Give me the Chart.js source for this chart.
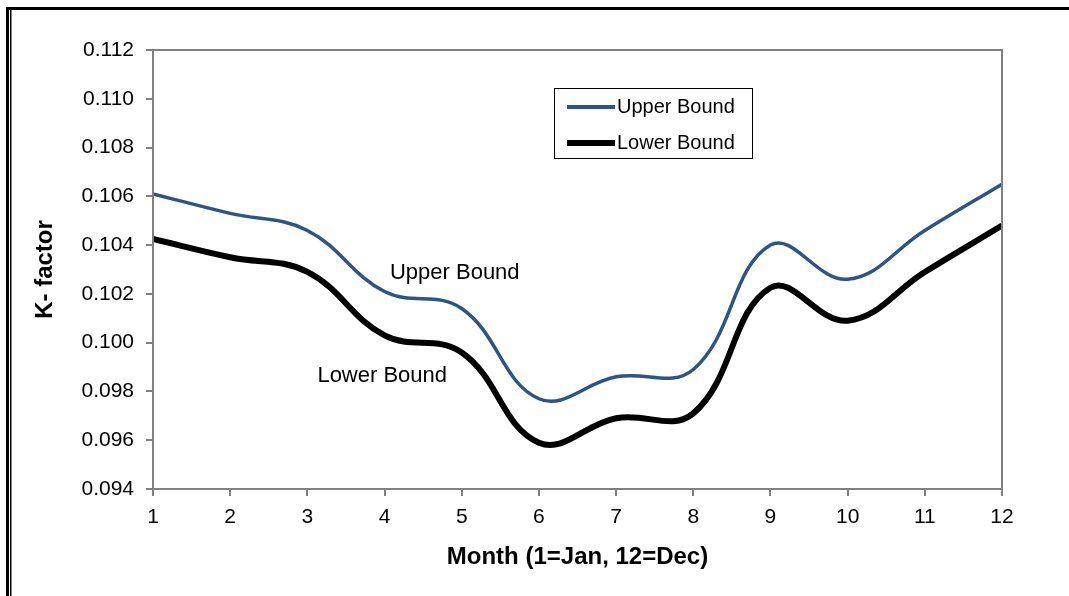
<!DOCTYPE html>
<html>
<head>
<meta charset="utf-8">
<script src="https://cdn.jsdelivr.net/npm/chart.js@4/dist/chart.umd.min.js"></script>
<style>
  html,body{margin:0;padding:0;background:#fff;}
  #wrap{width:1069px;height:596px;position:relative;}
</style>
</head>
<body>
<div id="wrap"><canvas id="kChart"></canvas></div>
<script>
// months and K-factor bounds
const months=[1,2,3,4,5,6,7,8,9,10,11,12];
const upperVals=[0.1061,0.1053,0.1046,0.1021,0.1014,0.0977,0.0986,0.0989,0.1040,0.1026,0.1046,0.1065];
const lowerVals=[0.10425,0.1035,0.1029,0.1003,0.0996,0.0959,0.0969,0.0971,0.10225,0.1009,0.1029,0.1048];
const yTicks=[0.094,0.096,0.098,0.100,0.102,0.104,0.106,0.108,0.110,0.112];

const FONT="'Liberation Sans', Arial, sans-serif";
const BLUE='#2d5487', AXIS='#808080';

const framePlugin={id:'frame',
  beforeDraw(chart){
    const c=chart.ctx;
    c.save();c.fillStyle='#000';
    c.fillRect(6,7,1063,3);
    c.fillRect(6,7,3,589);
    c.fillRect(10,10,1.5,586);
    c.restore();
  },
  afterDraw(chart){
    const c=chart.ctx,a=chart.chartArea,sx=chart.scales.x,sy=chart.scales.y;
    c.save();
    c.strokeStyle=AXIS;c.lineWidth=2;
    c.beginPath();
    c.moveTo(a.left,a.bottom);c.lineTo(a.left,a.top);c.lineTo(a.right,a.top);c.lineTo(a.right,a.bottom);c.lineTo(a.left,a.bottom);
    c.stroke();
    // legend box
    c.strokeStyle='#000';c.lineWidth=1;
    c.strokeRect(554.5,88.5,198,70);
    c.lineCap='butt';
    c.strokeStyle=BLUE;c.lineWidth=4;
    c.beginPath();c.moveTo(567,107);c.lineTo(615,107);c.stroke();
    c.strokeStyle='#000';c.lineWidth=6;
    c.beginPath();c.moveTo(567,143);c.lineTo(615,143);c.stroke();
    c.fillStyle='#000';c.font='20px '+FONT;c.textBaseline='middle';c.textAlign='left';
    c.fillText('Upper Bound',617,107);
    c.fillText('Lower Bound',617,143);
    // curve labels
    c.font='22px '+FONT;
    c.fillText('Upper Bound',sx.getPixelForValue(4.07),sy.getPixelForValue(0.10286));
    c.fillText('Lower Bound',sx.getPixelForValue(3.13),sy.getPixelForValue(0.09865));
    c.restore();
  }};

new Chart(document.getElementById('kChart'),{type:'line',
  data:{datasets:[
    {label:'Upper Bound',data:months.map((m,i)=>({x:m,y:upperVals[i]})),borderColor:BLUE,borderWidth:3.5,pointRadius:0,tension:0.4,fill:false},
    {label:'Lower Bound',data:months.map((m,i)=>({x:m,y:lowerVals[i]})),borderColor:'#000',borderWidth:6,pointRadius:0,tension:0.4,fill:false}
  ]},
  options:{responsive:true,maintainAspectRatio:false,animation:false,
    layout:{padding:{left:0,right:67,top:50,bottom:0}},
    plugins:{legend:{display:false},tooltip:{enabled:false}},
    scales:{
      x:{type:'linear',min:1,max:12,
        afterFit:s=>{s.height=107;},
        grid:{drawOnChartArea:false,drawTicks:true,tickLength:7,color:AXIS,lineWidth:2},
        border:{color:AXIS,width:2},
        ticks:{stepSize:1,padding:9,color:'#000',font:{family:FONT,size:21}},
        title:{display:true,text:'Month (1=Jan, 12=Dec)',color:'#000',font:{family:FONT,size:24,weight:'bold'},padding:{top:8,bottom:24}}},
      y:{min:0.094,max:0.112,
        afterFit:s=>{s.width=153;},
        afterBuildTicks:s=>{s.ticks=yTicks.map(v=>({value:v}));},
        grid:{drawOnChartArea:false,drawTicks:true,tickLength:7,color:AXIS,lineWidth:2},
        border:{color:AXIS,width:2},
        ticks:{padding:12,color:'#000',font:{family:FONT,size:21},callback:v=>v.toFixed(3)},
        title:{display:true,text:'K- factor',color:'#000',font:{family:FONT,size:24,weight:'bold'},padding:{top:31,bottom:8}}}
    }},
  plugins:[framePlugin]
});
</script>
</body>
</html>
